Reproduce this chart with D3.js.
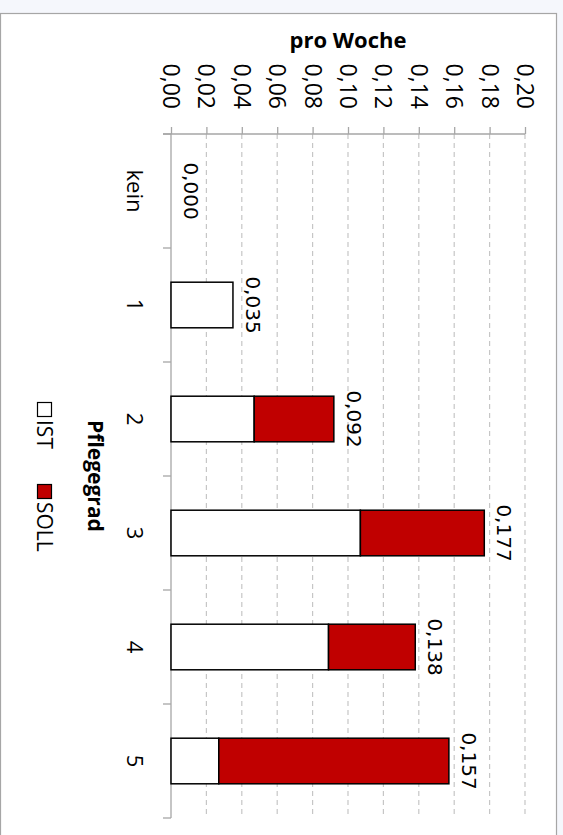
<!DOCTYPE html>
<html><head><meta charset="utf-8">
<script src="https://cdn.jsdelivr.net/npm/d3@7"></script>
<style>body{margin:0;background:#f5f7fc;overflow:hidden}</style></head>
<body>
<svg id="c" width="563" height="835"></svg>
<script>
const categories = ["kein", "1", "2", "3", "4", "5"];
const istValues  = [0.000, 0.035, 0.047, 0.107, 0.089, 0.027];
const sollValues = [0.000, 0.000, 0.045, 0.070, 0.049, 0.130];
const tickValues = [0, 0.02, 0.04, 0.06, 0.08, 0.10, 0.12, 0.14, 0.16, 0.18, 0.20];
const seriesNames = ["IST", "SOLL"];
const seriesColors = ["#ffffff", "#c00000"];
const valueTitle = "pro Woche";
const categoryTitle = "Pflegegrad";

const loc = d3.formatLocale({decimal: ",", thousands: ".", grouping: [3], currency: ["", "€"]});
const fmtTick = loc.format(".2f");
const fmtLabel = loc.format(".3f");

const svg = d3.select("#c");
svg.append("rect").attr("x", 0.5).attr("y", 13.5).attr("width", 556).attr("height", 840)
  .attr("fill", "#fff").attr("stroke", "#a6a6a6").attr("stroke-width", 1.2);

const x = d3.scaleLinear().domain([0, 0.2]).range([171, 525]);
const y = d3.scaleBand().domain(categories).range([134, 818]).paddingInner(0.6).paddingOuter(0.3);
const step = y.step();

// gridlines
svg.append("g").selectAll("line").data(tickValues.slice(1)).join("line")
  .attr("x1", d => x(d)).attr("x2", d => x(d)).attr("y1", 134).attr("y2", 818)
  .attr("stroke", "#c6c6c6").attr("stroke-width", 1.2).attr("stroke-dasharray", "5,4");

// value axis (top)
const gx = svg.append("g").attr("transform", "translate(0,134)")
  .call(d3.axisTop(x).tickValues(tickValues).tickSize(7).tickFormat(""));
gx.select(".domain").remove();
gx.selectAll(".tick line").attr("stroke", "#a6a6a6").attr("stroke-width", 1.3);
svg.append("line").attr("x1", 163).attr("x2", x(0.2)).attr("y1", 134).attr("y2", 134)
  .attr("stroke", "#a6a6a6").attr("stroke-width", 1.3);
svg.append("g").selectAll("text").data(tickValues).join("text")
  .attr("transform", d => `translate(${x(d)},109) rotate(90)`)
  .attr("dy", "0.35em").attr("text-anchor", "end")
  .attr("font-family", "Open Sans").attr("font-size", 23).attr("fill", "#000")
  .text(d => fmtTick(d));

// category axis (left)
svg.append("line").attr("x1", 171).attr("x2", 171).attr("y1", 134).attr("y2", 818)
  .attr("stroke", "#a6a6a6").attr("stroke-width", 1.3);
const bounds = categories.map(c => y(c) - y.paddingOuter() * step).concat([818]);
svg.append("g").selectAll("line").data(bounds).join("line")
  .attr("x1", 163).attr("x2", 171).attr("y1", d => d).attr("y2", d => d)
  .attr("stroke", "#a6a6a6").attr("stroke-width", 1.3);
svg.append("g").selectAll("text").data(categories).join("text")
  .attr("transform", d => `translate(127,${y(d) + y.bandwidth() / 2}) rotate(90)`)
  .attr("text-anchor", "middle")
  .attr("font-family", "Open Sans").attr("font-size", 22).attr("fill", "#000")
  .text(d => d);

// stacked bars
const rows = categories.map((c, i) => ({cat: c, ist: istValues[i], soll: sollValues[i]}));
const stack = d3.stack().keys(["ist", "soll"])(rows);
svg.append("g").selectAll("g").data(stack).join("g")
  .attr("fill", (d, i) => seriesColors[i])
  .selectAll("rect").data(d => d.filter(p => p[1] - p[0] > 0)).join("rect")
  .attr("x", d => x(d[0])).attr("width", d => x(d[1]) - x(d[0]))
  .attr("y", d => y(d.data.cat)).attr("height", y.bandwidth())
  .attr("stroke", "#000").attr("stroke-width", 1.5);

// data labels (totals)
svg.append("g").selectAll("text").data(rows).join("text")
  .attr("transform", d => `translate(${x(d.ist + d.soll) + 13},${y(d.cat) + y.bandwidth() / 2}) rotate(90)`)
  .attr("text-anchor", "middle")
  .attr("font-family", "DejaVu Sans").attr("font-size", 20).attr("fill", "#000")
  .text(d => fmtLabel(d.ist + d.soll));

// value title
svg.append("text").attr("x", (x(0) + x(0.2)) / 2).attr("y", 48)
  .attr("text-anchor", "middle").attr("font-family", "Open Sans").attr("font-weight", "bold")
  .attr("font-size", 22).text(valueTitle);

// category title
const mid = (134 + 818) / 2;
svg.append("text").attr("transform", `translate(88,${mid}) rotate(90)`)
  .attr("text-anchor", "middle").attr("font-family", "Open Sans").attr("font-weight", "bold")
  .attr("font-size", 21).text(categoryTitle);

// legend
const lg = svg.append("g").attr("transform", `translate(37,402) rotate(90)`);
const items = lg.selectAll("g").data(seriesNames).join("g")
  .attr("transform", (d, i) => `translate(${i * 82},0)`);
items.append("rect").attr("x", 0.5).attr("y", -14.5).attr("width", 14).attr("height", 14)
  .attr("fill", (d, i) => seriesColors[i]).attr("stroke", "#000").attr("stroke-width", 1.2);
items.append("text").attr("x", 18).attr("y", 0)
  .attr("font-family", "Open Sans").attr("font-size", 21).text(d => d);
</script>
</body></html>
